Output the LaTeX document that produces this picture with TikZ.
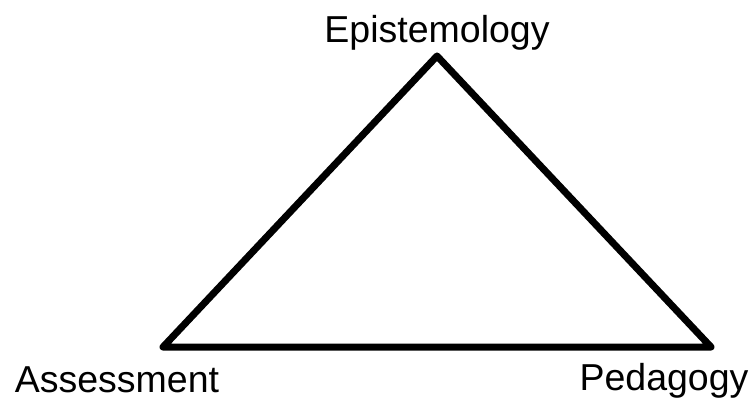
\documentclass[tikz,border=0pt]{standalone}
\usepackage{fontspec}
\setmainfont{Liberation Sans}
\tikzset{
  corner/.style={font=\fontsize{37.5}{40}\selectfont, anchor=base, inner sep=0pt},
  side/.style={line width=7pt, line join=round}
}

\begin{document}
\begin{tikzpicture}[x=1pt,y=1pt]
\useasboundingbox (0,0) rectangle (754,399);

% Corners of the triangle
\coordinate (epi) at (437,343);
\coordinate (ped) at (711,52);
\coordinate (ass) at (163,52);

% Triangle
\draw[side] (epi) -- (ped) -- (ass) -- cycle;

% Labels
\node[corner] (epilabel) at (437,356) {Epistemology};
\node[corner] (asslabel) at (117,7) {Assessment};
\node[corner] (pedlabel) at (664,8.5) {Pedagogy};
\end{tikzpicture}
\end{document}
